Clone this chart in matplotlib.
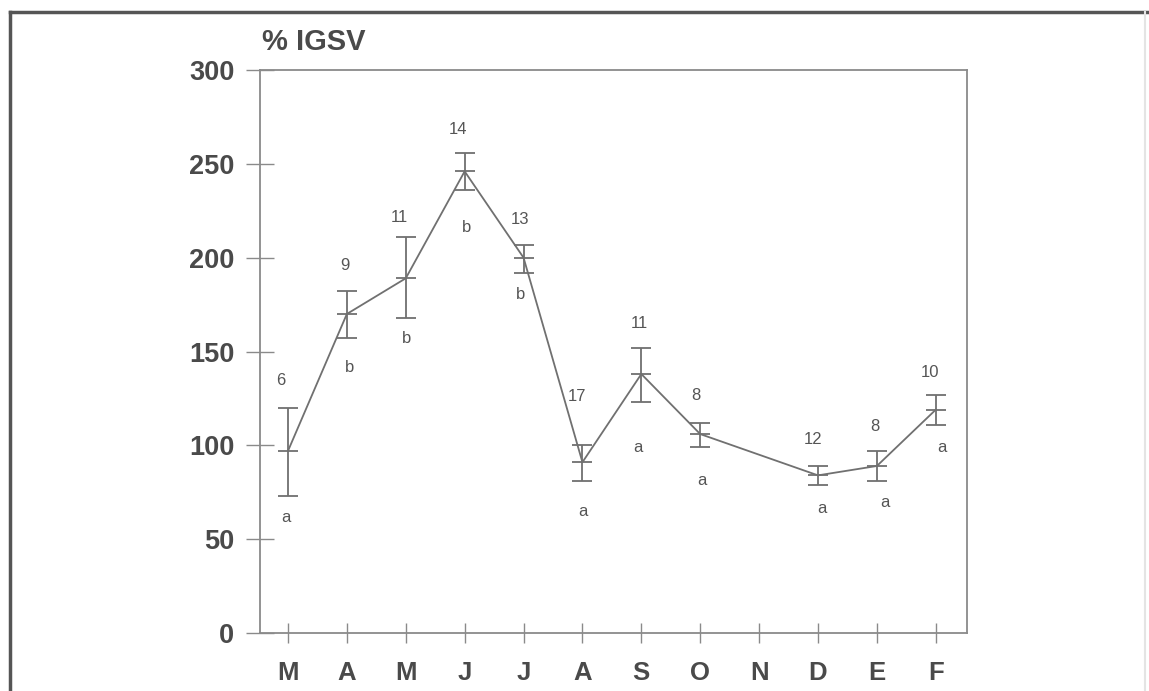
import matplotlib
matplotlib.use("Agg")
import matplotlib.pyplot as plt
from matplotlib.lines import Line2D
import numpy as np

plt.rcParams['font.family'] = ['Liberation Sans', 'DejaVu Sans']

# Months (March to February) and % IGSV means with error limits
months = ['M', 'A', 'M', 'J', 'J', 'A', 'S', 'O', 'N', 'D', 'E', 'F']
mean = [97, 170, 189, 246, 200, 91, 138, 106, np.nan, 84, 89, 119]
upper = [120, 182, 211, 256, 207, 100, 152, 112, np.nan, 89, 97, 127]
lower = [73, 157, 168, 236, 192, 81, 123, 99, np.nan, 79, 81, 111]
n_obs = ['6', '9', '11', '14', '13', '17', '11', '8', '', '12', '8', '10']
groups = ['a', 'b', 'b', 'b', 'b', 'a', 'a', 'a', '', 'a', 'a', 'a']
yticks = [0, 50, 100, 150, 200, 250, 300]

# label placement (pixel offsets from each mean point)
n_offsets = [(-7, 70), (-2, 48), (-6, 61), (-7, 42), (-4, 38), (-5, 66),
             (-2, 51), (-4, 39), (0, 0), (-5, 36), (-2, 39), (-6, 37)]
g_offsets = [(-2, -67), (3, -54), (1, -60), (2, -56), (-3, -37), (1, -49),
             (-3, -73), (2, -46), (0, 0), (4, -33), (8, -37), (6, -38)]

line_col = '#707070'
text_col = '#4a4a4a'

fig = plt.figure(figsize=(11.49, 6.91), dpi=100)
ax = fig.add_axes([260 / 1149, 1 - 633 / 691, (967 - 260) / 1149, (633 - 70) / 691])

x = np.arange(len(months))
m = np.array(mean, dtype=float)
up = np.array(upper, dtype=float)
lo = np.array(lower, dtype=float)
valid = ~np.isnan(m)

ax.plot(x[valid], m[valid], color=line_col, lw=1.3, zorder=3)
ax.errorbar(x[valid], m[valid], yerr=[m[valid] - lo[valid], up[valid] - m[valid]],
            fmt='_', color=line_col, ecolor=line_col, elinewidth=1.3,
            capsize=7.5, capthick=1.3, markersize=15, markeredgewidth=1.3, zorder=4)

for i in range(len(months)):
    if not valid[i]:
        continue
    ax.annotate(n_obs[i], (x[i], m[i]), xytext=n_offsets[i], textcoords='offset pixels',
                ha='center', va='center', fontsize=12, color='#555555')
    ax.annotate(groups[i], (x[i], m[i]), xytext=g_offsets[i], textcoords='offset pixels',
                ha='center', va='center', fontsize=12, color='#555555')

ax.set_xlim(-0.475, 11.53)
ax.set_ylim(0, 300)
ax.set_xticks(x)
ax.set_xticklabels(months)
ax.set_yticks(yticks)
ax.set_yticklabels([str(v) for v in yticks])

for s in ax.spines.values():
    s.set_color('#8a8a8a')
    s.set_linewidth(1.3)

ax.tick_params(axis='y', direction='inout', length=19.5, width=1.0, color='#8a8a8a',
               labelsize=19.5, labelcolor=text_col, pad=8.8)
ax.tick_params(axis='x', direction='inout', length=15, width=1.0, color='#8a8a8a',
               labelsize=18.5, labelcolor=text_col, pad=12.6)
for lab in ax.get_xticklabels() + ax.get_yticklabels():
    lab.set_fontweight('bold')

fig.text(262 / 1149, 1 - 42 / 691, '% IGSV', fontsize=21, fontweight='bold',
         color=text_col, ha='left', va='center')

# outer page frame
fig.add_artist(Line2D([10 / 1149, 10 / 1149], [0, 1 - 12 / 691], transform=fig.transFigure,
                      color='#555555', lw=2.5))
fig.add_artist(Line2D([10 / 1149, 1], [1 - 12 / 691, 1 - 12 / 691], transform=fig.transFigure,
                      color='#555555', lw=2.5))
fig.add_artist(Line2D([1145 / 1149, 1145 / 1149], [0, 1 - 12 / 691], transform=fig.transFigure,
                      color='#e4e4e4', lw=1.5))

fig.savefig('out.png', dpi=100)
